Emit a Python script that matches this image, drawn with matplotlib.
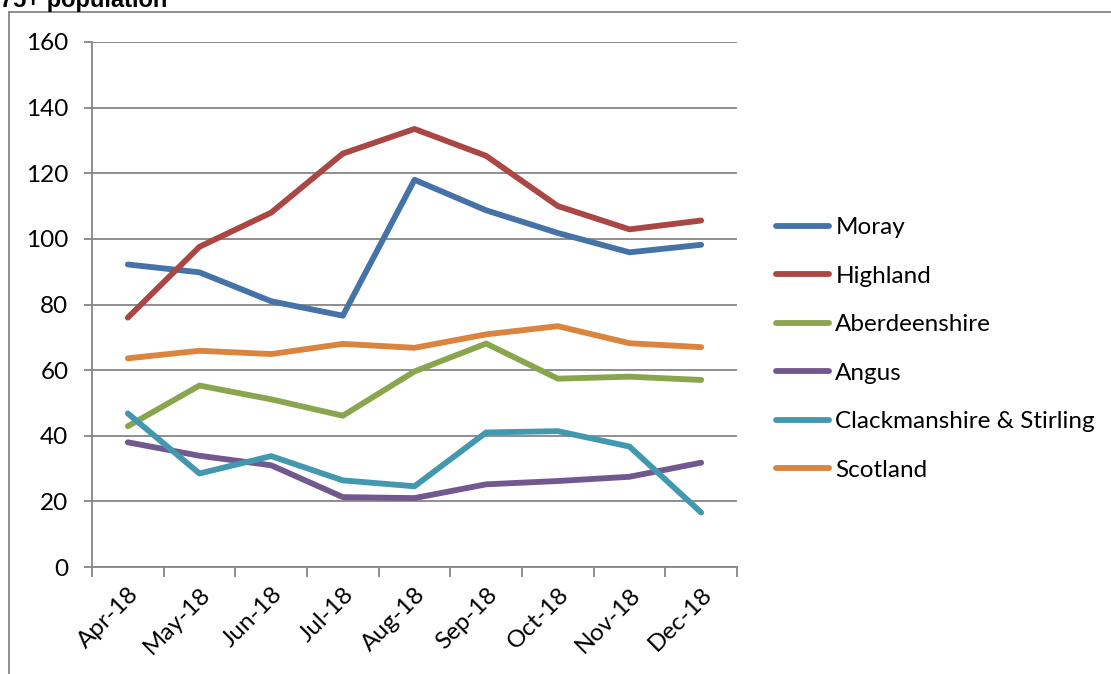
import matplotlib
matplotlib.use("Agg")
import matplotlib.pyplot as plt
from matplotlib.lines import Line2D

months = ["Apr-18", "May-18", "Jun-18", "Jul-18", "Aug-18", "Sep-18", "Oct-18", "Nov-18", "Dec-18"]
moray = [92.2, 89.8, 81.0, 76.6, 118.0, 108.7, 101.8, 95.9, 98.2]
highland = [76.0, 97.6, 108.0, 126.0, 133.5, 125.3, 110.0, 102.9, 105.6]
aberdeenshire = [42.9, 55.3, 51.1, 46.1, 59.6, 68.1, 57.4, 58.0, 57.0]
angus = [38.0, 33.9, 31.0, 21.3, 21.0, 25.2, 26.2, 27.5, 31.8]
clack_stirling = [46.8, 28.5, 33.8, 26.4, 24.6, 41.0, 41.4, 36.7, 16.6]
scotland = [63.6, 65.9, 64.9, 68.0, 66.8, 70.9, 73.4, 68.2, 67.0]

series = [
    ("Moray", moray, "#4572A7"),
    ("Highland", highland, "#AA4643"),
    ("Aberdeenshire", aberdeenshire, "#89A54E"),
    ("Angus", angus, "#71588F"),
    ("Clackmanshire & Stirling", clack_stirling, "#4198AF"),
    ("Scotland", scotland, "#DB843D"),
]

grey = "#868686"
fs = 17.5
plt.rcParams["font.family"] = ["Lato", "DejaVu Sans"]

fig = plt.figure(figsize=(11.11, 6.74), dpi=100)
ax = fig.add_axes([92 / 1111, 1 - 567 / 674, 645 / 1111, 525 / 674])

x = list(range(len(months)))
for name, vals, col in series:
    ax.plot(x, vals, color=col, lw=4.2, solid_capstyle="round",
            solid_joinstyle="round", label=name)

ax.set_xlim(-0.5, len(months) - 0.5)
ax.set_ylim(0, 160)
ax.set_yticks(range(0, 161, 20))
ax.yaxis.grid(True, color=grey, lw=1.3)
ax.set_axisbelow(True)
for s in ["top", "right"]:
    ax.spines[s].set_visible(False)
for s in ["left", "bottom"]:
    ax.spines[s].set_color(grey)
    ax.spines[s].set_linewidth(1.3)

ax.set_xticks([i - 0.5 for i in range(len(months) + 1)])
ax.set_xticklabels([])
ax.set_xticks(x, minor=True)
ax.set_xticklabels(months, minor=True, rotation=45, ha="right",
                   rotation_mode="anchor", fontsize=fs)
ax.tick_params(axis="x", which="major", length=7, width=1.3, color=grey)
ax.tick_params(axis="x", which="minor", length=0, pad=12)
ax.tick_params(axis="y", length=6, width=1.3, color=grey, labelsize=fs, pad=11)

leg = ax.legend(loc="upper left", bbox_to_anchor=(1.045, 0.685), frameon=False,
                fontsize=fs, handlelength=2.2, handletextpad=0.25,
                labelspacing=1.13, borderaxespad=0)

# chart area border (clipped at top/right like the source)
fig.add_artist(Line2D([9 / 1111, 9 / 1111], [0, 1 - 12 / 674], color=grey, lw=1.3))
fig.add_artist(Line2D([9 / 1111, 1], [1 - 12 / 674, 1 - 12 / 674], color=grey, lw=1.3))

fig.text(0.0, 1 - 7 / 674, "75+ population", fontsize=17, fontweight="bold",
         family="Liberation Sans", va="baseline", ha="left")

fig.savefig("out.png", dpi=100)
